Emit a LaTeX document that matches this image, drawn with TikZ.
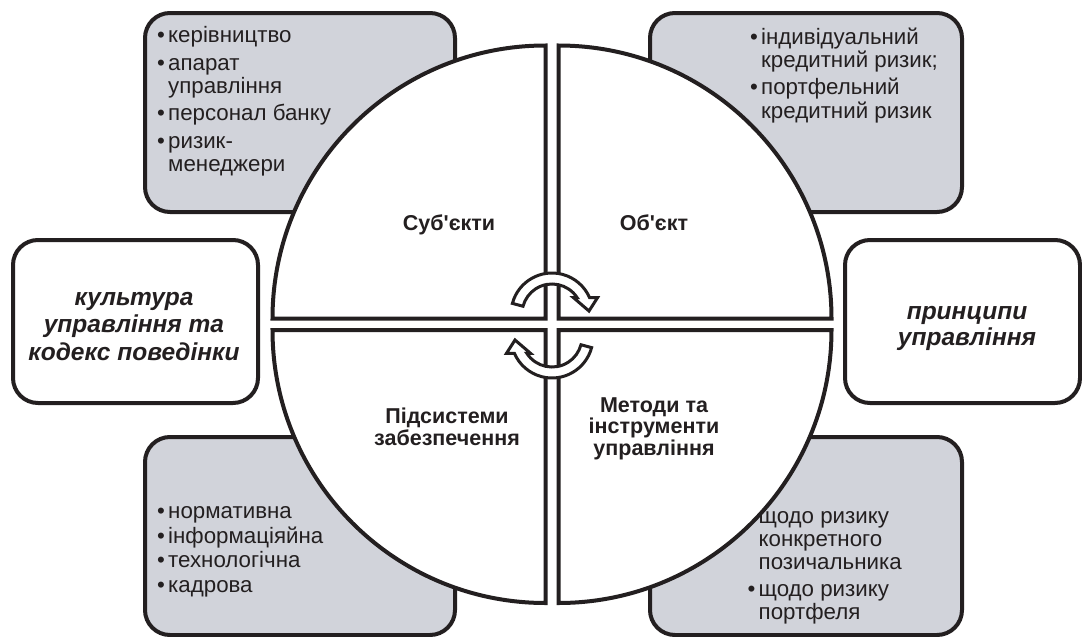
\documentclass[tikz,border=0pt]{standalone}
\usepackage{fontspec}
\setmainfont{Liberation Sans}
\definecolor{boxfill}{HTML}{D1D3DA}
\definecolor{ink}{HTML}{231F20}
\newcommand\bul{\makebox[11pt][l]{•}}
\newcommand\ind{\hspace*{11pt}}
\begin{document}
\begin{tikzpicture}[x=1pt,y=-1pt,
  cornerbox/.style={draw=ink, line width=4pt, fill=boxfill, rounded corners=25pt, inner sep=0pt},
  sidebox/.style={draw=ink, line width=4pt, fill=white, rounded corners=25pt, inner sep=0pt},
  sidetext/.style={font=\fontsize{24.5}{27.5}\selectfont\bfseries\itshape, text=ink, inner sep=0pt, anchor=base},
  quad/.style={draw=ink, line width=4pt, fill=white, line join=miter},
  qlabel/.style={font=\fontsize{21.5}{22}\selectfont\bfseries, text=ink, inner sep=0pt, anchor=base},
  listtext/.style={font=\fontsize{22.3}{23}\selectfont, text=ink, inner sep=0pt, anchor=base west},
  cyc/.style={draw=ink, line width=3pt, fill=white, line join=miter}
]
\useasboundingbox (0,0) rectangle (1082,637);

% corner boxes
\node[cornerbox, minimum width=310pt, minimum height=199pt] (boxTL) at (300,112.5) {};
\node[cornerbox, minimum width=312pt, minimum height=199pt] (boxTR) at (806,112.5) {};
\node[cornerbox, minimum width=310pt, minimum height=198pt] (boxBL) at (300,536) {};
\node[cornerbox, minimum width=312pt, minimum height=198pt] (boxBR) at (806,536) {};

% lists
\node[listtext] (listTL) at (157,42.5) {\begin{tabular}[t]{@{}l@{}}
\bul керівництво\\[4.5pt]
\bul апарат\\
\ind управління\\[4.5pt]
\bul персонал банку\\[4.5pt]
\bul ризик-\\
\ind менеджери
\end{tabular}};
\node[listtext] (listTR) at (750,44.3) {\begin{tabular}[t]{@{}l@{}}
\bul індивідуальний\\
\ind кредитний ризик;\\[3.5pt]
\bul портфельний\\
\ind кредитний ризик
\end{tabular}};
\node[listtext] (listBL) at (157,518.3) {\begin{tabular}[t]{@{}l@{}}
\bul нормативна\\[1.5pt]
\bul інформаціяйна\\[1.5pt]
\bul технологічна\\[1.5pt]
\bul кадрова
\end{tabular}};
\node[listtext] (listBR) at (747.5,523) {\begin{tabular}[t]{@{}l@{}}
\bul щодо ризику\\
\ind конкретного\\
\ind позичальника\\[4pt]
\bul щодо ризику\\
\ind портфеля
\end{tabular}};

% quadrants
\filldraw[quad] (545.5,318.5) -- (272.5,318.5) arc[start angle=180, end angle=270, radius=273] -- cycle;
\filldraw[quad] (558.5,318.5) -- (558.5,45.5) arc[start angle=270, end angle=360, radius=273] -- cycle;
\filldraw[quad] (558.5,330) -- (831.5,330) arc[start angle=0, end angle=90, radius=273] -- cycle;
\filldraw[quad] (545.5,330) -- (545.5,603) arc[start angle=90, end angle=180, radius=273] -- cycle;

% quadrant labels
\node[qlabel] (lblSub) at (449,230) {Суб\textquotesingle єкти};
\node[qlabel] (lblObj) at (654,230) {Об\textquotesingle єкт};
\node[qlabel] (lblPid) at (447,423) {\begin{tabular}[t]{@{}c@{}}Підсистеми\\забезпечення\end{tabular}};
\node[qlabel] (lblMet) at (654,412) {\begin{tabular}[t]{@{}c@{}}Методи та\\[-0.5pt]інструменти\\[-0.5pt]управління\end{tabular}};

% cyclic arrows
\begin{scope}[shift={(552,314)}, yscale=-1]
\filldraw[cyc] (165:41) arc[start angle=165, end angle=23.4, radius=41]
  -- (45.5,16.3) -- (37,3) -- (21.5,16.3) -- (32.9:30)
  arc[start angle=32.9, end angle=165, radius=30] -- cycle;
\end{scope}
\begin{scope}[shift={(552,337)}, xscale=-1]
\filldraw[cyc] (165:41) arc[start angle=165, end angle=23.4, radius=41]
  -- (45.5,16.3) -- (37,3) -- (21.5,16.3) -- (32.9:30)
  arc[start angle=32.9, end angle=165, radius=30] -- cycle;
\end{scope}

% side boxes
\node[sidebox, minimum width=245pt, minimum height=163pt] (culture) at (135.5,321.5) {};
\node[sidetext] (cultureText) at (134,305) {\begin{tabular}[t]{@{}c@{}}культура\\управління та\\кодекс поведінки\end{tabular}};
\node[sidebox, minimum width=235pt, minimum height=163pt] (principles) at (962.5,321.5) {};
\node[sidetext] (principlesText) at (967,319.5) {\begin{tabular}[t]{@{}c@{}}принципи\\[-1.5pt]управління\end{tabular}};
\end{tikzpicture}
\end{document}
